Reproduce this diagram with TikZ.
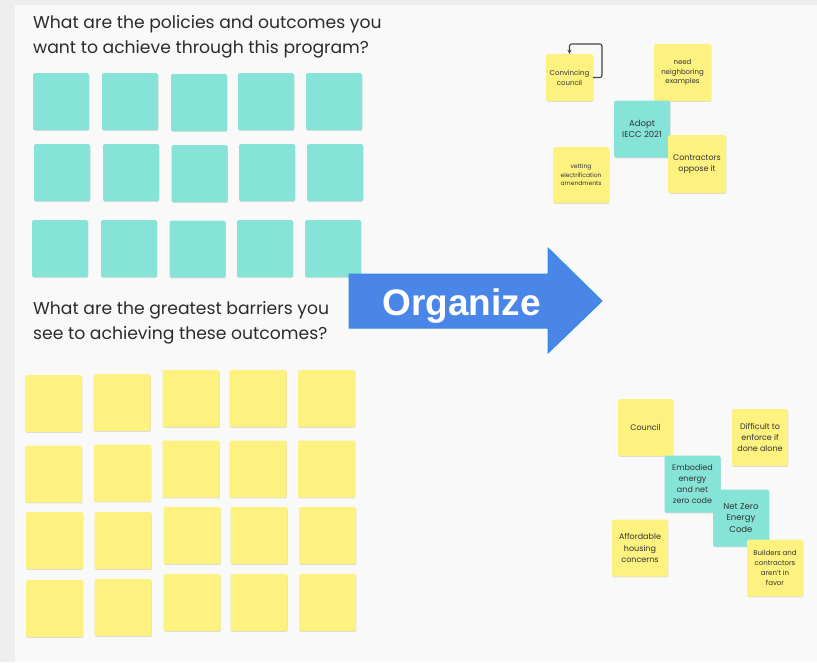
\documentclass[tikz,border=0pt]{standalone}
\usepackage{fontspec}
\setmainfont{Poppins}
\newfontfamily\arialish{Liberation Sans}
\usetikzlibrary{arrows.meta,shadows}
\definecolor{outerbg}{HTML}{EEEEEE}
\definecolor{boardbg}{HTML}{F9F9F9}
\definecolor{tealn}{HTML}{86E3D8}
\definecolor{yeln}{HTML}{FDF180}
\definecolor{bluefill}{HTML}{4A86E8}
\definecolor{blueedge}{HTML}{2F8CE3}
\definecolor{notetxt}{HTML}{333333}
\definecolor{headtxt}{HTML}{2B2B2B}
\definecolor{loopline}{HTML}{444444}
\tikzset{
  note/.style={rounded corners=1.5pt, inner sep=0pt, align=center, text=notetxt,
    minimum width=56pt, minimum height=57pt,
    drop shadow={shadow xshift=0.4pt, shadow yshift=-0.9pt, opacity=0.12, fill=black}},
  tealnote/.style={note, fill=tealn},
  yelnote/.style={note, fill=yeln},
  heading/.style={anchor=base west, inner sep=0pt, text=headtxt, font=\fontsize{17.2}{25}\selectfont},
  tiny/.style={font=\fontsize{6}{8.5}\selectfont},
  small/.style={font=\fontsize{7}{9.8}\selectfont},
  mid/.style={font=\fontsize{8}{11.3}\selectfont},
  loopcon/.style={draw=loopline, line width=1.1pt, rounded corners=2pt, -{Stealth[length=4pt,width=4pt]}},
}
\begin{document}
\begin{tikzpicture}[x=1pt,y=-1pt]
\useasboundingbox (0,0) rectangle (817,662);
\fill[outerbg] (0,0) rectangle (817,662);
\fill[boardbg] (15,5) rectangle (817,662);

% headings
\node[heading] (h1a) at (33,28) {What are the policies and outcomes you};
\node[heading] (h1b) at (33,53) {want to achieve through this program?};
\node[heading] (h2a) at (33,314) {What are the greatest barriers you};
\node[heading] (h2b) at (33,339) {see to achieving these outcomes?};

% teal grid
\foreach \x/\y [count=\i] in {61/101.5,130/101.5,199/102.5,266/101.5,334/101.5,
  62/172.5,131/172.5,199.5/173.5,267/172.5,335/172.5,
  60/248.5,129/248.5,197.5/249,265/248.5,333/248.5}
  \node[tealnote] (t\i) at (\x,\y) {};

% yellow grid
\foreach \x/\y [count=\i] in {53.5/403.5,122/402.5,191/398.5,258/398.5,326.5/398.5,
  53.5/474,122.5/473,191/469,258/469,326.5/469,
  54.5/540.5,123/540.5,192/535.5,259/535.5,327.5/535.5,
  54.5/608.5,123/607.5,192/602.5,259/602.5,327.5/602.5}
  \node[yelnote, minimum width=57pt] (y\i) at (\x,\y) {};

% arrow
\filldraw[fill=bluefill, draw=blueedge, line width=1pt, line join=miter]
  (349,274) -- (548,274) -- (548,248) -- (602,301) -- (548,353) -- (548,328) -- (349,328) -- cycle;
\node[anchor=base, inner sep=0pt, text=white, font=\arialish\bfseries\fontsize{37}{40}\selectfont] (org) at (461.5,315) {Organize};

% top-right cluster
\node[yelnote, small, minimum width=47pt, minimum height=47pt] (conv) at (569.5,77.5) {Convincing\\council};
\node[yelnote, small, minimum width=57pt, minimum height=57pt] (need) at (682.5,72.5) {need\\neighboring\\examples};
\node[tealnote, font=\fontsize{8.5}{11}\selectfont] (adopt) at (642,129) {Adopt\\IECC 2021};
\node[yelnote, mid, minimum width=58pt, minimum height=58pt] (contr) at (697,164) {Contractors\\oppose it};
\node[yelnote, tiny, minimum width=56pt, minimum height=56pt] (vet) at (581,175) {vetting\\electrification\\amendments};
\coordinate (loopc) at (602,44);
\draw[loopcon] (conv.east) -| (loopc) -| (conv.north);

% bottom-right cluster
\node[yelnote, mid, minimum width=55pt] (council) at (645.5,427.5) {Council};
\node[yelnote, mid, minimum width=56pt] (diff) at (760,437.5) {Difficult to\\enforce if\\done alone};
\node[tealnote, mid] (emb) at (692.5,484) {Embodied\\energy\\and net\\zero code};
\node[tealnote, font=\fontsize{8.5}{11.5}\selectfont] (nzec) at (741,518) {Net Zero\\Energy\\Code};
\node[yelnote, mid] (afford) at (640,548) {Affordable\\housing\\concerns};
\node[yelnote, small] (build) at (775,568) {Builders and\\contractors\\aren't in\\favor};
\end{tikzpicture}
\end{document}
